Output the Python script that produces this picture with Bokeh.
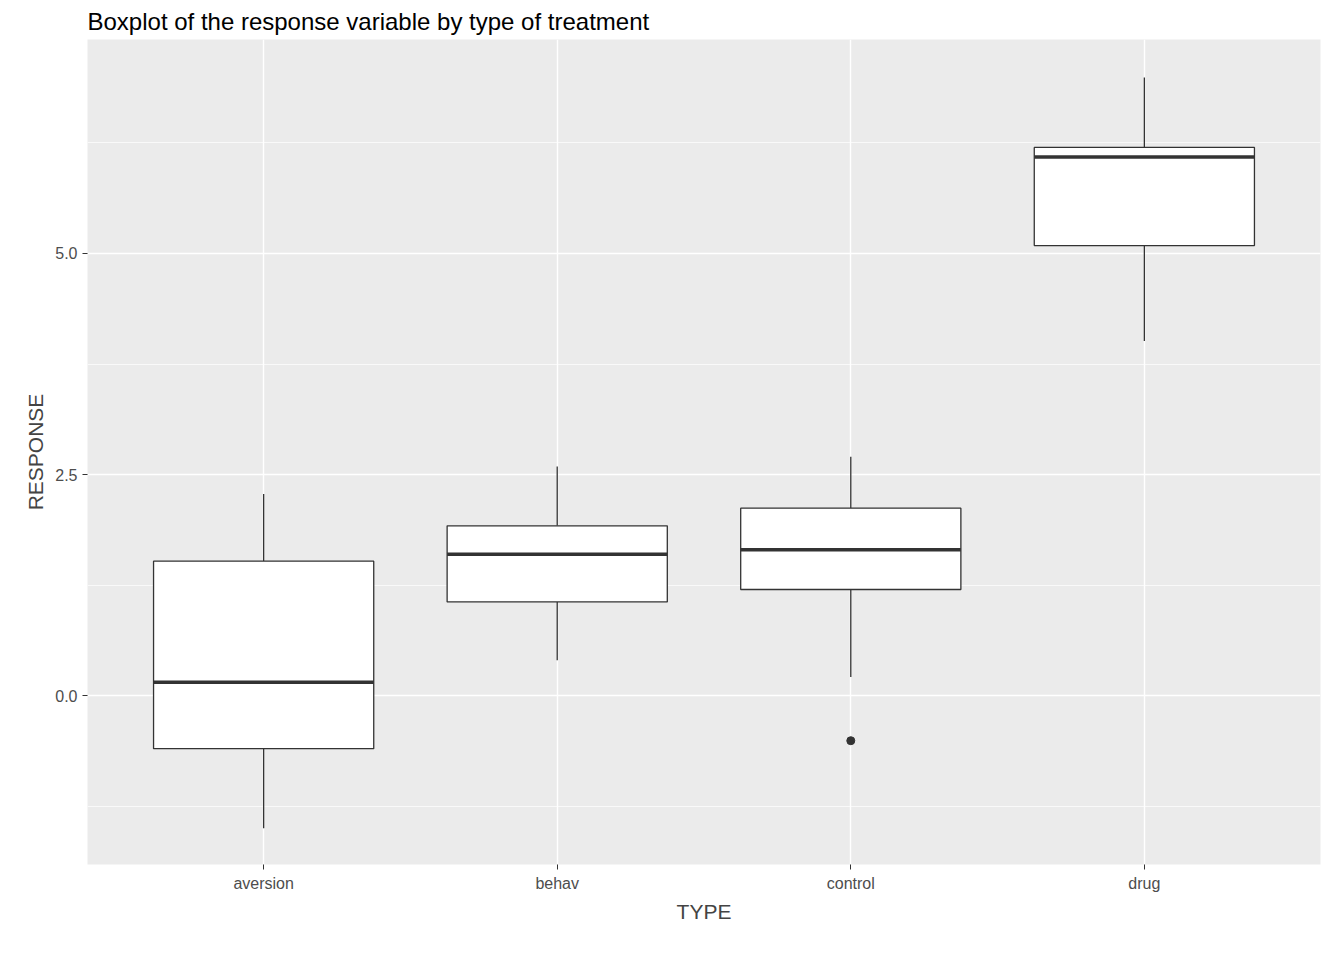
from bokeh.plotting import figure
from bokeh.models import FixedTicker, Range1d, NumeralTickFormatter
from bokeh.embed import file_html
from bokeh.resources import INLINE

types = ["aversion", "behav", "control", "drug"]
lower = [-1.5, 0.40, 0.21, 4.01]
q1 = [-0.6, 1.06, 1.20, 5.09]
median = [0.15, 1.60, 1.65, 6.09]
q3 = [1.52, 1.92, 2.12, 6.20]
upper = [2.28, 2.59, 2.70, 6.99]
outlier_type = [3]
outlier_val = [-0.51]

xs = list(range(1, len(types) + 1))
hw = 0.375

p = figure(width=1328, height=944, output_backend="svg", toolbar_location=None,
           x_range=Range1d(0.4, 4.6), y_range=Range1d(-1.91, 7.42),
           title="Boxplot of the response variable by type of treatment",
           min_border_left=87, min_border_right=8, min_border_bottom=80, min_border_top=10)
p.title.text_font = "Liberation Sans"
p.title.text_font_size = "24px"
p.title.text_font_style = "normal"
p.title.text_color = "black"
p.background_fill_color = "#EBEBEB"
p.outline_line_color = None

p.xaxis.ticker = FixedTicker(ticks=xs)
p.xaxis.major_label_overrides = {x: t for x, t in zip(xs, types)}
p.yaxis.ticker = FixedTicker(ticks=[0, 2.5, 5.0], minor_ticks=[-1.25, 1.25, 3.75, 6.25])
p.yaxis.formatter = NumeralTickFormatter(format="0.0")
for ax in (p.xaxis, p.yaxis):
    ax.axis_line_color = None
    ax.major_tick_line_color = "#333333"
    ax.major_tick_out = 5
    ax.major_tick_in = 0
    ax.minor_tick_line_color = None
    ax.major_label_text_font = "Liberation Sans"
    ax.major_label_text_font_size = "16px"
    ax.major_label_text_color = "#4D4D4D"
    ax.axis_label_text_font = "Liberation Sans"
    ax.axis_label_text_font_size = "21px"
    ax.axis_label_text_font_style = "normal"
p.xaxis.axis_label = "TYPE"
p.yaxis.axis_label = "RESPONSE"
p.grid.grid_line_color = "white"
p.grid.grid_line_width = 1.4
p.ygrid.minor_grid_line_color = "white"
p.ygrid.minor_grid_line_width = 0.7
p.xgrid.minor_grid_line_color = None

p.segment(xs, q3, xs, upper, line_color="#333333", line_width=1.3)
p.segment(xs, lower, xs, q1, line_color="#333333", line_width=1.3)
p.quad(left=[x - hw for x in xs], right=[x + hw for x in xs], bottom=q1, top=q3,
       fill_color="white", line_color="#333333", line_width=1.3)
p.segment([x - hw for x in xs], median, [x + hw for x in xs], median,
          line_color="#333333", line_width=3.5)
p.scatter(outlier_type, outlier_val, size=8, color="#333333")

open("out.html", "w").write(file_html(p, INLINE))
